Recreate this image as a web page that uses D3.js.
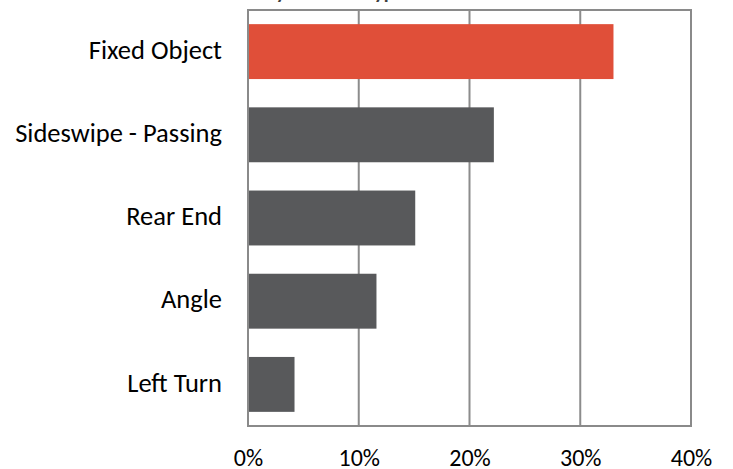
<!DOCTYPE html>
<html>
<head>
<meta charset="utf-8">
<script src="https://cdn.jsdelivr.net/npm/d3@7"></script>
<style>
  html, body { margin: 0; padding: 0; background: #fff; }
  svg { display: block; }
  text { font-family: Calibri, Carlito, "Open Sans", sans-serif; fill: #000; }
</style>
</head>
<body>
<svg id="chart" width="733" height="469"></svg>
<script>
// Share of crashes by collision type
const categories = ["Fixed Object", "Sideswipe - Passing", "Rear End", "Angle", "Left Turn"];
const shares = [0.33, 0.222, 0.151, 0.116, 0.042];
const highlight = ["Fixed Object"];
const tickValues = [0, 0.1, 0.2, 0.3, 0.4];
const title = "Crashes by Collision Type";

const svg = d3.select("#chart");
const margin = { top: 10, right: 42, bottom: 43, left: 248 };
const width = 733 - margin.left - margin.right;
const height = 469 - margin.top - margin.bottom;

const x = d3.scaleLinear().domain([0, 0.4]).range([0, width]);
const y = d3.scaleBand().domain(categories).range([0, height]).paddingInner(0.34).paddingOuter(0.17);

const g = svg.append("g").attr("transform", `translate(${margin.left},${margin.top})`);

// title, running off the top edge
svg.append("text")
  .attr("x", 197).attr("y", -1)
  .style("font-size", "20px").style("font-weight", "bold")
  .style("fill", "#404040")
  .text(title);

// vertical gridlines
g.append("g")
  .selectAll("line")
  .data(tickValues.slice(1, -1))
  .join("line")
  .attr("x1", d => x(d)).attr("x2", d => x(d))
  .attr("y1", 0).attr("y2", height)
  .attr("stroke", "#8c8c8c").attr("stroke-width", 2);

// bars
g.append("g")
  .selectAll("rect")
  .data(categories.map((c, i) => ({ c, v: shares[i] })))
  .join("rect")
  .attr("x", 0)
  .attr("y", d => y(d.c))
  .attr("width", d => x(d.v))
  .attr("height", y.bandwidth())
  .attr("fill", d => highlight.includes(d.c) ? "#E04F39" : "#58595B");

// plot frame
g.append("rect")
  .attr("x", 0).attr("y", 0)
  .attr("width", width).attr("height", height)
  .attr("fill", "none")
  .attr("stroke", "#8a8a8a").attr("stroke-width", 2);

// x axis labels
const xAxis = d3.axisBottom(x).tickValues(tickValues).tickFormat(d3.format(".0%")).tickSize(0).tickPadding(22);
const xa = g.append("g").attr("transform", `translate(0,${height})`).call(xAxis);
xa.select(".domain").remove();
xa.selectAll("text").style("font-size", "24px").style("font-family", null)
  .attr("dy", "0.74em").attr("fill", "#000");

// category labels
const yAxis = d3.axisLeft(y).tickSize(0).tickPadding(26);
const ya = g.append("g").call(yAxis);
ya.select(".domain").remove();
ya.selectAll("text").style("font-size", "26.5px").style("font-family", null)
  .attr("dy", "0.27em").attr("fill", "#000");
</script>
</body>
</html>
